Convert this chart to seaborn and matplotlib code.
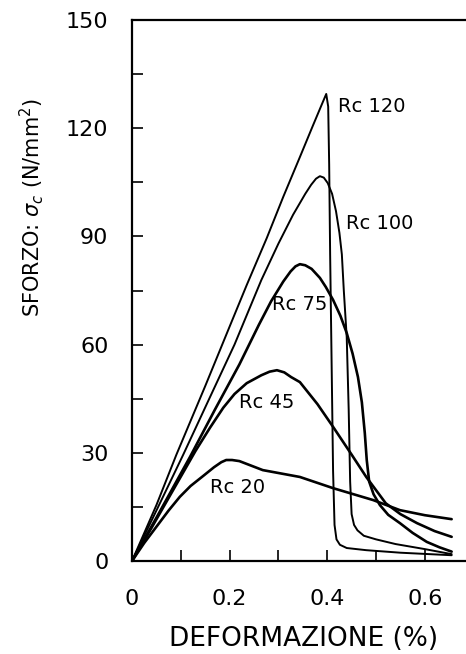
import matplotlib
matplotlib.use('Agg')
import matplotlib.pyplot as plt
import seaborn as sns
import pandas as pd
from matplotlib.ticker import MultipleLocator

# curves: strain (%) vs stress (N/mm2)
rc120_x = [0, 0.05, 0.091, 0.15, 0.2, 0.235, 0.276, 0.31, 0.344, 0.37, 0.388, 0.398,
           0.402, 0.404, 0.406, 0.409, 0.412, 0.415, 0.419, 0.426, 0.44, 0.48, 0.55, 0.655]
rc120_y = [0, 15.5, 29.5, 48.5, 65, 76.5, 89.5, 101, 112, 120.5, 126.3, 129.5,
           126, 110, 85, 55, 25, 10, 6, 4.5, 3.6, 3.0, 2.3, 1.6]

rc100_x = [0, 0.05, 0.105, 0.16, 0.21, 0.265, 0.30, 0.33, 0.355, 0.367, 0.377, 0.385,
           0.393, 0.401, 0.41, 0.418, 0.425, 0.43, 0.434, 0.44, 0.444, 0.447, 0.45,
           0.455, 0.462, 0.475, 0.5, 0.54, 0.6, 0.655]
rc100_y = [0, 14, 29.5, 45.5, 60, 77.9, 88, 96, 101.8, 104.3, 106, 106.7,
           106.3, 104.8, 101.8, 97, 91, 85, 75, 62, 42, 22, 13,
           10, 8.5, 7, 6, 4.7, 3.3, 1.9]

rc75_x = [0, 0.05, 0.119, 0.17, 0.22, 0.26, 0.285, 0.31, 0.325, 0.335, 0.344, 0.355,
          0.368, 0.385, 0.397, 0.412, 0.427, 0.44, 0.452, 0.463, 0.471, 0.477, 0.481,
          0.486, 0.495, 0.508, 0.525, 0.549, 0.575, 0.604, 0.63, 0.655]
rc75_y = [0, 12, 28.9, 42, 54.5, 65.5, 72, 77.5, 80.3, 81.7, 82.3, 82.0,
          81, 78.5, 76, 72.4, 68, 63.2, 57.5, 51, 44, 35.5, 28,
          22, 18.5, 15.5, 12.8, 10.5, 7.8, 5.3, 3.8, 2.6]

rc45_x = [0, 0.04, 0.078, 0.13, 0.16, 0.187, 0.21, 0.235, 0.265, 0.282, 0.297, 0.312,
          0.326, 0.344, 0.38, 0.412, 0.45, 0.48, 0.52, 0.55, 0.584, 0.62, 0.655]
rc45_y = [0, 9.2, 18.2, 30.5, 37, 42.5, 46.3, 49.3, 51.5, 52.5, 52.9, 52.3,
          51.0, 49.6, 43.5, 37.2, 29.5, 23.3, 16, 13, 10.5, 8.3, 6.7]

rc20_x = [0, 0.025, 0.05, 0.075, 0.098, 0.12, 0.146, 0.168, 0.183, 0.193, 0.205,
          0.22, 0.268, 0.344, 0.412, 0.494, 0.549, 0.6, 0.655]
rc20_y = [0, 5, 9.5, 14, 17.8, 20.8, 23.6, 26, 27.4, 28, 28,
          27.7, 25.2, 23.3, 20.2, 16.9, 14.1, 12.7, 11.6]

labels = ['Rc 120', 'Rc 100', 'Rc 75', 'Rc 45', 'Rc 20']
label_pos = [(0.422, 126), (0.4385, 93.5), (0.287, 71), (0.219, 44), (0.16, 20.5)]

curves = [(rc120_x, rc120_y), (rc100_x, rc100_y), (rc75_x, rc75_y),
          (rc45_x, rc45_y), (rc20_x, rc20_y)]
widths = [1.4, 1.4, 1.9, 1.9, 1.9]

sns.set_style('ticks')
plt.rcParams['font.family'] = ['DejaVu Sans']
plt.rcParams['text.color'] = 'black'
plt.rcParams['axes.labelcolor'] = 'black'
plt.rcParams['xtick.color'] = 'black'
plt.rcParams['ytick.color'] = 'black'
plt.rcParams['axes.edgecolor'] = 'black'

fig = plt.figure(figsize=(4.66, 6.54), dpi=100)
ax = fig.add_axes([0.2833, 0.1422, 0.7167, 0.8272])

for (xs, ys), name, lw in zip(curves, labels, widths):
    df = pd.DataFrame({'x': xs, 'y': ys})
    sns.lineplot(data=df, x='x', y='y', sort=False, estimator=None,
                 color='black', lw=lw, ax=ax)

for name, (tx, ty) in zip(labels, label_pos):
    ax.text(tx, ty, name, fontsize=14, ha='left', va='center', color='black')

ax.set_xlim(0, 0.6844)
ax.set_ylim(0, 150)
ax.xaxis.set_major_locator(MultipleLocator(0.2))
ax.xaxis.set_minor_locator(MultipleLocator(0.1))
ax.yaxis.set_major_locator(MultipleLocator(30))
ax.yaxis.set_minor_locator(MultipleLocator(15))
ax.set_xticks([0, 0.2, 0.4, 0.6])
ax.set_xticklabels(['0', '0.2', '0.4', '0.6'])
ax.tick_params(which='both', direction='in', length=8, width=1.2, labelsize=16)
ax.tick_params(axis='y', pad=17)
ax.tick_params(axis='x', pad=20)

ax.spines['right'].set_visible(False)
for s in ['left', 'bottom', 'top']:
    ax.spines[s].set_linewidth(1.6)

ax.set_xlabel('DEFORMAZIONE (%)', fontsize=19)
ax.xaxis.set_label_coords(0.515, -0.144)
ax.xaxis.label.set_verticalalignment('center')
ax.set_ylabel(r'SFORZO: $\sigma_c$ (N/mm$^2$)', fontsize=15)
ax.yaxis.set_label_coords(-0.302, 0.654)
ax.yaxis.label.set_verticalalignment('center')

fig.savefig('out.png', dpi=100)
